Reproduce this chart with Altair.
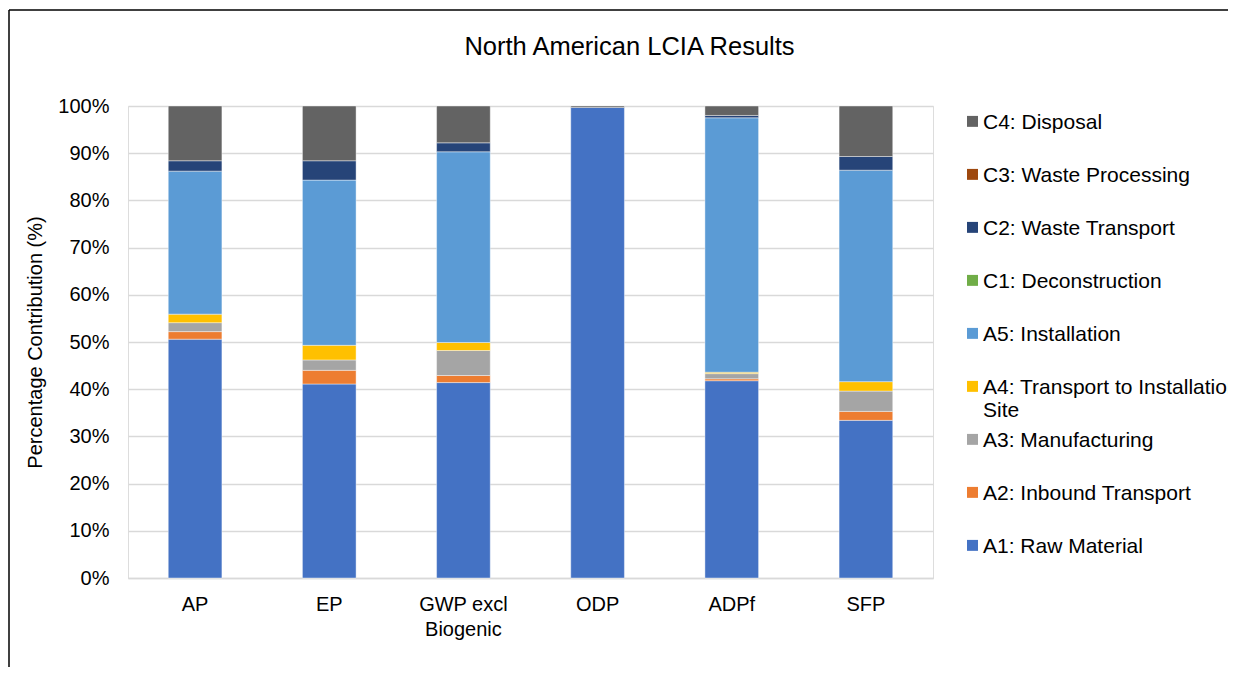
import altair as alt
import pandas as pd

categories = ["AP", "EP", "GWP excl Biogenic", "ODP", "ADPf", "SFP"]
stages = [
    "A1: Raw Material",
    "A2: Inbound Transport",
    "A3: Manufacturing",
    "A4: Transport to Installation Site",
    "A5: Installation",
    "C1: Deconstruction",
    "C2: Waste Transport",
    "C3: Waste Processing",
    "C4: Disposal",
]
colors = ["#4472C4", "#ED7D31", "#A5A5A5", "#FFC000", "#5B9BD5",
          "#70AD47", "#264478", "#9E480E", "#636363"]

# percentage contribution per stage (A1..C4) for each category
ap = [50.6, 1.6, 1.9, 1.8, 30.3, 0.0, 2.2, 0.0, 11.6]
ep = [41.1, 2.9, 2.2, 3.1, 35.0, 0.0, 4.1, 0.0, 11.6]
gwp = [41.4, 1.5, 5.3, 1.7, 40.4, 0.0, 1.9, 0.0, 7.8]
odp = [99.7, 0.0, 0.0, 0.0, 0.0, 0.0, 0.0, 0.0, 0.3]
adpf = [41.8, 0.4, 1.1, 0.3, 53.9, 0.0, 0.5, 0.0, 2.0]
sfp = [33.4, 1.9, 4.3, 2.0, 44.8, 0.0, 2.9, 0.0, 10.7]
series = [ap, ep, gwp, odp, adpf, sfp]

rows = []
for cat, vals in zip(categories, series):
    for i, (st, v) in enumerate(zip(stages, vals)):
        rows.append({"category": cat, "stage": st, "value": v, "order": i})
df = pd.DataFrame(rows)

FONT = "Liberation Sans"

# square legend symbol nudged up so that it lines up with the first label line
SYMBOL = "M-1,-2.3L1,-2.3L1,-0.3L-1,-0.3Z"

bars = alt.Chart(df).transform_filter("datum.value > 0").mark_bar(
    stroke="white", strokeWidth=0.6, strokeOpacity=0.7
).encode(
    x=alt.X("category:N", sort=categories,
            scale=alt.Scale(paddingInner=0.6, paddingOuter=0.3),
            axis=alt.Axis(title=None, labelAngle=0, ticks=False,
                          labelFontSize=20, labelColor="#000000",
                          labelFont=FONT, labelPadding=16,
                          domainColor="#d9d9d9", domainWidth=1.5,
                          labelLineHeight=25,
                          labelExpr="datum.label == 'GWP excl Biogenic' ? ['GWP excl', 'Biogenic'] : datum.label")),
    y=alt.Y("value:Q", stack="zero",
            scale=alt.Scale(domain=[0, 100], nice=False),
            axis=alt.Axis(title="Percentage Contribution (%)",
                          values=list(range(0, 101, 10)),
                          labelExpr="datum.value + '%'",
                          ticks=False, domain=False,
                          labelFontSize=20, labelFont=FONT, labelColor="#000000",
                          labelPadding=19,
                          titleFontSize=20, titleFont=FONT, titleFontWeight="normal",
                          titleColor="#000000", titlePadding=12,
                          gridColor="#d9d9d9", gridWidth=1.5)),
    color=alt.Color("stage:N",
                    scale=alt.Scale(domain=stages[::-1], range=colors[::-1]),
                    legend=alt.Legend(title=None, orient="none",
                                      legendX=834, legendY=12,
                                      symbolType=SYMBOL, symbolSize=120,
                                      symbolStrokeWidth=0,
                                      labelFontSize=21, labelFont=FONT,
                                      labelColor="#000000",
                                      labelLimit=400, rowPadding=8,
                                      labelOffset=0, padding=0,
                                      labelBaseline="alphabetic",
                                      labelExpr="datum.label == 'A4: Transport to Installation Site' ? ['A4: Transport to Installation', 'Site'] : [datum.label, '']")),
    order=alt.Order("order:Q", sort="ascending"),
)

one = alt.Data(values=[{"k": 1}])
border_left = alt.Chart(one).mark_rule(color="#000000", strokeWidth=1.5).encode(
    x=alt.value(-119), y=alt.value(-96), y2=alt.value(600))
border_top = alt.Chart(one).mark_rule(color="#000000", strokeWidth=1.5).encode(
    x=alt.value(-119), x2=alt.value(1200), y=alt.value(-96))

chart = alt.layer(border_left, border_top, bars).properties(
    width=805, height=472,
    title=alt.TitleParams("North American LCIA Results", fontSize=25.5,
                          font=FONT, fontWeight="normal", color="#000000",
                          anchor="middle", dx=99, offset=-51),
    autosize=alt.AutoSizeParams(type="none"),
    padding={"left": 120, "top": 98, "right": 295, "bottom": 89},
).configure_view(stroke=None).configure(background="white")

chart.save("out.html", embed_options={"renderer": "svg", "actions": False})
